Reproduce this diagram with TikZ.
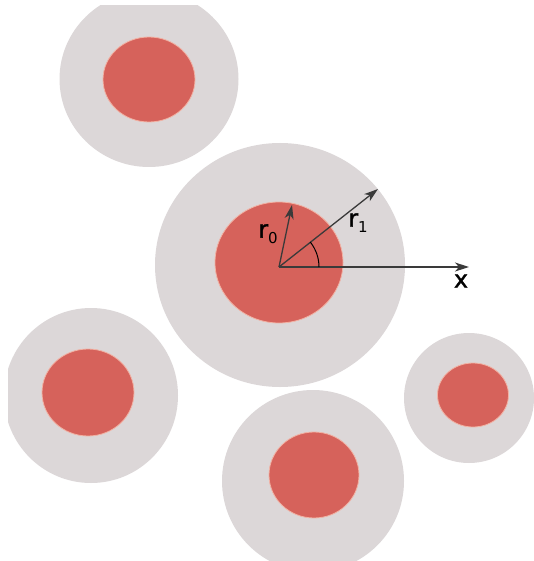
\documentclass[tikz,border=0pt]{standalone}
\usepackage{fontspec}
\setmainfont{DejaVu Sans}
\newfontfamily\labfont{DejaVu Sans}[FakeBold=1.5]
\usetikzlibrary{arrows.meta,calc}
\definecolor{cellgrey}{HTML}{DCD7D8}
\definecolor{cellred}{HTML}{D6625B}
\definecolor{cellrim}{HTML}{F2B2A4}
\definecolor{axisgrey}{HTML}{3A3A3A}
\tikzset{
  outer/.style={fill=cellgrey},
  inner/.style={fill=cellred, draw=cellrim, line width=0.8pt},
  vec/.style={draw=axisgrey, line width=1.3pt, -{Stealth[length=14pt,width=9pt,inset=4pt]}},
  lab/.style={inner sep=0pt, text=black},
}
\begin{document}
\begin{tikzpicture}[x=1pt,y=-1pt]
\useasboundingbox (0,0) rectangle (534,561);
\begin{scope}
\clip (8,6) rectangle (534,561);
% top-left
\fill[outer] (149,79) ellipse [x radius=89.5, y radius=88];
\filldraw[inner] (149,79.5) ellipse [x radius=46, y radius=42.5];
% bottom-left
\fill[outer] (91,395.5) ellipse [x radius=87, y radius=87.5];
\filldraw[inner] (88,392.5) ellipse [x radius=46, y radius=43.5];
% bottom-middle
\fill[outer] (313,481) ellipse [x radius=91, y radius=91];
\filldraw[inner] (314,475) ellipse [x radius=45, y radius=43];
% right
\fill[outer] (469,398) ellipse [x radius=65, y radius=65];
\filldraw[inner] (473,395) ellipse [x radius=35.5, y radius=32];
% centre
\fill[outer] (280,265) ellipse [x radius=125, y radius=122];
\filldraw[inner] (279,262.5) ellipse [x radius=64, y radius=60.5];
\end{scope}
\coordinate (o) at (279,267);
\coordinate (r0tip) at (292,205);
\coordinate (r1tip) at (378,189);
\coordinate (xtip) at (469,267);
\draw[vec] (o) -- (r0tip);
\draw[vec] (o) -- (r1tip);
\draw[vec] (o) -- (xtip);
\draw[black, line width=1pt] ($(o)+(40,0)$) arc[start angle=0, end angle=-38.5, radius=40];
\node[lab] (r0lab) at (268,234) {{\labfont\fontsize{24}{24}\selectfont r}\raisebox{-6pt}{\fontsize{15}{15}\selectfont 0}};
\node[lab] (r1lab) at (358,223) {{\labfont\fontsize{24}{24}\selectfont r}\raisebox{-6pt}{\fontsize{15}{15}\selectfont 1}};
\node[lab] (xlab) at (461,281) {\labfont\fontsize{24}{24}\selectfont x};
\end{tikzpicture}
\end{document}
